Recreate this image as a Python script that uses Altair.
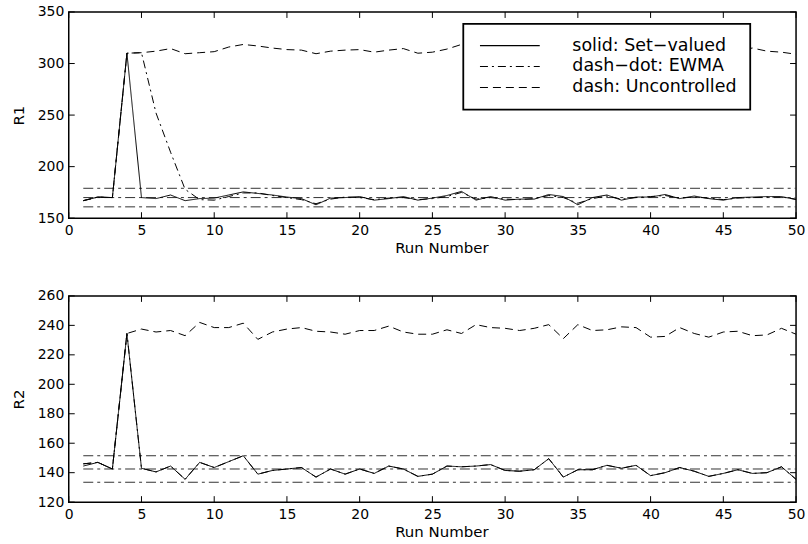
import altair as alt
import pandas as pd

# Run index shared by both responses
runs = list(range(1, 51))

# Response R1
r1_set_valued = [167, 170.5, 170, 310, 170, 169, 172.5, 167, 169, 169.5,
                 172.5, 175.5, 174, 172.5, 170.5, 169, 163, 169.5, 170, 171,
                 167.5, 169, 171, 167.5, 169.5, 172, 176, 167.5, 171, 167.5,
                 168.5, 168.5, 173, 171, 163, 170, 172.5, 167.5, 170.5, 170.5,
                 173, 169, 171.5, 169, 167.5, 170, 170.5, 171, 171, 168]
r1_ewma = [167, 170.5, 170, 310, 310.5, 252, 214, 178, 168, 167.5,
           171, 174.5, 174.5, 172, 170, 168, 164, 168.5, 170.5, 170,
           168, 169.5, 170, 168, 169, 171, 175, 168.5, 170, 168.5,
           168, 169, 172, 170, 164.5, 169, 171.5, 168.5, 170, 171,
           172, 169.5, 170.5, 169.5, 168, 169.5, 170, 170.5, 170.5, 168.5]
r1_uncontrolled = [167, 170.5, 170, 310, 310.5, 312, 314.5, 309.5, 310.5, 311.5,
                   316, 318.5, 317, 315, 313.5, 313, 309.5, 312, 313, 313.5,
                   311, 313, 314.5, 310, 311, 314, 318.5, 316, 313, 311,
                   314, 316, 312, 310, 313, 315, 312, 311, 314, 317,
                   313, 311, 314, 312, 310, 313, 315, 312, 311, 309]
r1_limits = [161, 170, 179]

# Response R2
r2_set_valued = [144.5, 147, 142.5, 234.5, 143, 140.5, 144.5, 135.5, 147, 143.5,
                 147.5, 151.5, 139, 141.5, 142.5, 143.5, 137, 142.5, 139, 142.5,
                 139.5, 144.5, 142.5, 137.5, 139, 144.5, 144, 144.5, 145.5, 141.5,
                 141, 142, 149.5, 137, 142, 142, 145, 143, 145, 138,
                 140, 143.5, 141, 137.5, 139.5, 142, 139.5, 140, 144, 135.5]
r2_ewma = [146, 147, 142.5, 234.5, 143, 140.5, 144.5, 135.5, 147, 143.5,
           147.5, 151.5, 139, 141.5, 142.5, 143.5, 137, 142.5, 139, 142.5,
           139.5, 144.5, 142.5, 137.5, 139, 144.5, 144, 144.5, 145.5, 141.5,
           141, 142, 149.5, 137, 142, 142, 145, 143, 145, 138,
           140, 143.5, 141, 137.5, 139.5, 142, 139.5, 140, 144, 135.5]
r2_uncontrolled = [146, 147, 142.5, 234.5, 237.5, 235.5, 236.5, 233, 242, 238.5,
                   238.5, 241.5, 230.5, 235.5, 237.5, 238.5, 236, 235.5, 234, 236.5,
                   236.5, 239.5, 235.5, 234, 234, 237, 234.5, 240.5, 238.5, 238,
                   236.5, 238, 240.5, 231, 240.5, 236.5, 237, 239, 238.5, 232,
                   232.5, 238.5, 234.5, 232, 235.5, 236, 233, 233.5, 238, 234]
r2_limits = [133.5, 142.5, 151.5]

series_names = ["solid: Set−valued", "dash−dot: EWMA", "dash: Uncontrolled"]
series_dash = [[1, 0], [8, 4, 2, 4], [8, 5]]

x_ticks = list(range(0, 51, 5))
r1_ticks = [150, 200, 250, 300, 350]
r2_ticks = [120, 140, 160, 180, 200, 220, 240, 260]

W, H = 730, 207
TICK = 6
FONT = "DejaVu Sans"


def panel(name, series_values, limits, y_domain, y_ticks, show_legend):
    df = pd.DataFrame({
        "run": runs * len(series_names),
        "value": [v for vals in series_values for v in vals],
        "series": [s for s in series_names for _ in runs],
    })
    lim_df = pd.DataFrame({"level": limits, "start": [1] * len(limits), "end": [50] * len(limits)})
    xt_df = pd.DataFrame({"t": x_ticks})
    yt_df = pd.DataFrame({"t": y_ticks})

    xs = alt.Scale(domain=[0, 50], nice=False, zero=False)
    ys = alt.Scale(domain=y_domain, nice=False, zero=False)
    xaxis = alt.Axis(values=x_ticks, title="Run Number", labelPadding=5, titlePadding=3,
                     titleX=374, labelFlush=False, labelOverlap=False)
    yaxis = alt.Axis(values=y_ticks, title=name, labelPadding=5, titlePadding=11,
                     labelFlush=False, labelOverlap=False)

    def xe(field):
        return alt.X(field, scale=xs, axis=xaxis)

    def ye(field):
        return alt.Y(field, scale=ys, axis=yaxis)

    if show_legend:
        legend = alt.Legend(
            title=None, orient="none", legendX=396, legendY=12,
            fillColor="white", strokeColor="black", padding=13,
            labelFont=FONT, labelFontSize=17.5, labelColor="black", labelLimit=400,
            symbolType="M-6,0H6", symbolSize=100, symbolStrokeColor="black",
            symbolStrokeWidth=1.1, symbolOffset=25, labelOffset=54, rowPadding=2,
        )
    else:
        legend = None

    limit_rules = alt.Chart(lim_df).mark_rule(
        color="#333333", strokeWidth=1, strokeDash=[10, 4, 3, 4]
    ).encode(x=xe("start:Q"), x2="end:Q", y=ye("level:Q"))

    lines = alt.Chart(df).mark_line(color="black", strokeWidth=1).encode(
        x=xe("run:Q"),
        y=ye("value:Q"),
        strokeDash=alt.StrokeDash(
            "series:N", sort=series_names,
            scale=alt.Scale(domain=series_names, range=series_dash),
            legend=legend,
        ),
    )

    # inward tick marks on all four sides of the box
    bottom_ticks = alt.Chart(xt_df).mark_rule(color="black").encode(
        x=xe("t:Q"), y=alt.value(H), y2=alt.value(H - TICK))
    top_ticks = alt.Chart(xt_df).mark_rule(color="black").encode(
        x=xe("t:Q"), y=alt.value(0), y2=alt.value(TICK))
    left_ticks = alt.Chart(yt_df).mark_rule(color="black").encode(
        y=ye("t:Q"), x=alt.value(0), x2=alt.value(TICK))
    right_ticks = alt.Chart(yt_df).mark_rule(color="black").encode(
        y=ye("t:Q"), x=alt.value(W), x2=alt.value(W - TICK))

    return alt.layer(limit_rules, lines, bottom_ticks, top_ticks, left_ticks, right_ticks).properties(
        width=W, height=H)


top = panel("R1", [r1_set_valued, r1_ewma, r1_uncontrolled], r1_limits, [150, 350], r1_ticks, True)
bottom = panel("R2", [r2_set_valued, r2_ewma, r2_uncontrolled], r2_limits, [120, 260], r2_ticks, False)

chart = alt.vconcat(top, bottom, spacing=78, bounds="flush").resolve_scale(
    strokeDash="independent"
).properties(
    padding={"left": 10, "top": 3, "right": 2, "bottom": 2},
    background="white",
).configure_view(
    stroke="black", strokeWidth=1.5
).configure_legend(
    strokeWidth=1.8
).configure_axis(
    domain=False, ticks=False, tickSize=0, grid=False,
    labelFont=FONT, labelFontSize=14, labelColor="black",
    titleFont=FONT, titleFontSize=15, titleFontWeight="normal", titleColor="black",
)

chart.save("out.html", embed_options={"renderer": "svg", "actions": False})
